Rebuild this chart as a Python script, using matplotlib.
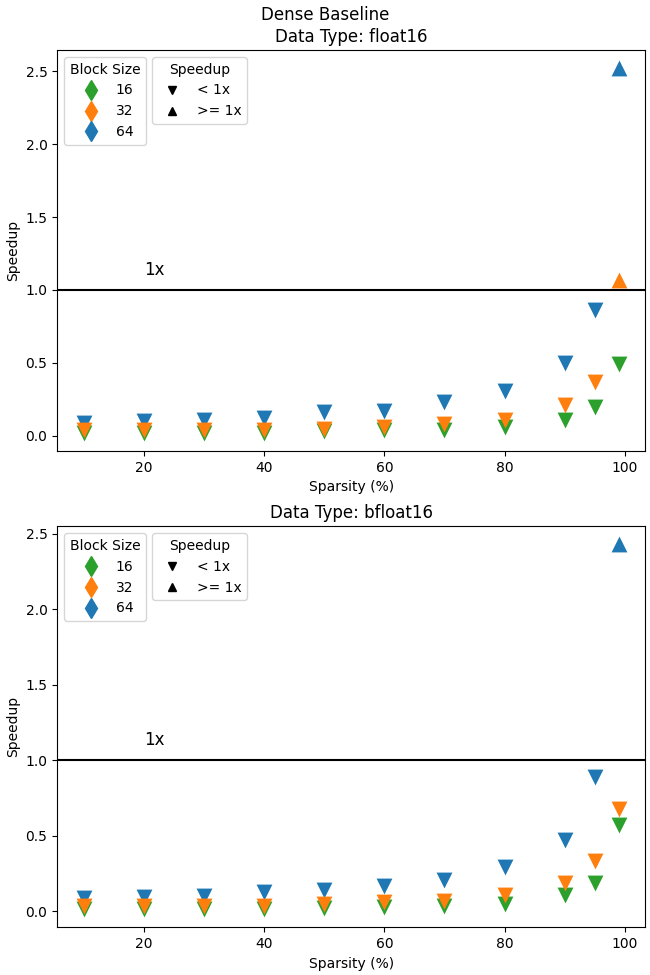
"""
Speedup vs. dense baseline by sparsity, block size and data type.

Two stacked panels (float16, bfloat16). Markers: down triangle = slower
than dense, up triangle = faster than dense.
"""

import numpy as np
import matplotlib
matplotlib.use('Agg')
import matplotlib.pyplot as plt
from matplotlib.lines import Line2D

# Colors per block size
BLOCK_COLORS = {16: '#2ca02c', 32: '#ff7f0e', 64: '#1f77b4'}

sparsity = [10, 20, 30, 40, 50, 60, 70, 80, 90, 95, 99]
block_sizes = [16, 32, 64]

# float16 speedups
fp16_bs16 = [0.02, 0.02, 0.02, 0.02, 0.03, 0.04, 0.04, 0.06, 0.11, 0.20, 0.49]
fp16_bs32 = [0.04, 0.04, 0.04, 0.04, 0.05, 0.06, 0.08, 0.11, 0.21, 0.37, 1.07]
fp16_bs64 = [0.09, 0.10, 0.11, 0.125, 0.16, 0.17, 0.23, 0.31, 0.50, 0.86, 2.52]

# bfloat16 speedups
bf16_bs16 = [0.015, 0.015, 0.015, 0.015, 0.02, 0.027, 0.037, 0.047, 0.11, 0.19, 0.57]
bf16_bs32 = [0.033, 0.033, 0.035, 0.035, 0.047, 0.06, 0.07, 0.11, 0.19, 0.33, 0.68]
bf16_bs64 = [0.087, 0.097, 0.10, 0.127, 0.14, 0.167, 0.21, 0.29, 0.47, 0.89, 2.43]

dtype_names = ['float16', 'bfloat16']
speedups = {
    'float16': {16: fp16_bs16, 32: fp16_bs32, 64: fp16_bs64},
    'bfloat16': {16: bf16_bs16, 32: bf16_bs32, 64: bf16_bs64},
}

# Draw order (orange ends up on top)
DRAW_ORDER = [16, 64, 32]


def plot_speedup():
    fig, axes = plt.subplots(2, 1, figsize=(6.5, 9.75))
    fig.subplots_adjust(left=0.088, right=0.993, top=0.9487, bottom=0.049, hspace=0.187)
    fig.suptitle('Dense Baseline', fontsize=12, y=0.994)

    for ax, dtype in zip(axes, dtype_names):
        for bs in DRAW_ORDER:
            x = np.array(sparsity)
            y = np.array(speedups[dtype][bs])
            slow = y < 1
            ax.scatter(x[slow], y[slow], marker='v', s=130, color=BLOCK_COLORS[bs], linewidths=0)
            ax.scatter(x[~slow], y[~slow], marker='^', s=130, color=BLOCK_COLORS[bs], linewidths=0)

        ax.axhline(1.0, color='black', linewidth=1.5)
        ax.text(20, 1.1, '1x', fontsize=12)

        ax.set_title(f'Data Type: {dtype}', fontsize=12)
        ax.set_xlabel('Sparsity (%)')
        ax.set_ylabel('Speedup')

        # Legends: block size colors and speedup direction
        bs_handles = [Line2D([], [], marker='d', linestyle='none', markersize=10,
                             color=BLOCK_COLORS[bs], label=str(bs)) for bs in block_sizes]
        leg1 = ax.legend(handles=bs_handles, title='Block Size', loc='upper left')
        ax.add_artist(leg1)

        sp_handles = [
            Line2D([], [], marker='v', linestyle='none', markersize=6, color='black', label='< 1x'),
            Line2D([], [], marker='^', linestyle='none', markersize=6, color='black', label='>= 1x'),
        ]
        ax.legend(handles=sp_handles, title='Speedup', loc='upper left',
                  bbox_to_anchor=(0.15, 1.0))

    plt.savefig('out.png', dpi=100)


if __name__ == '__main__':
    plot_speedup()
